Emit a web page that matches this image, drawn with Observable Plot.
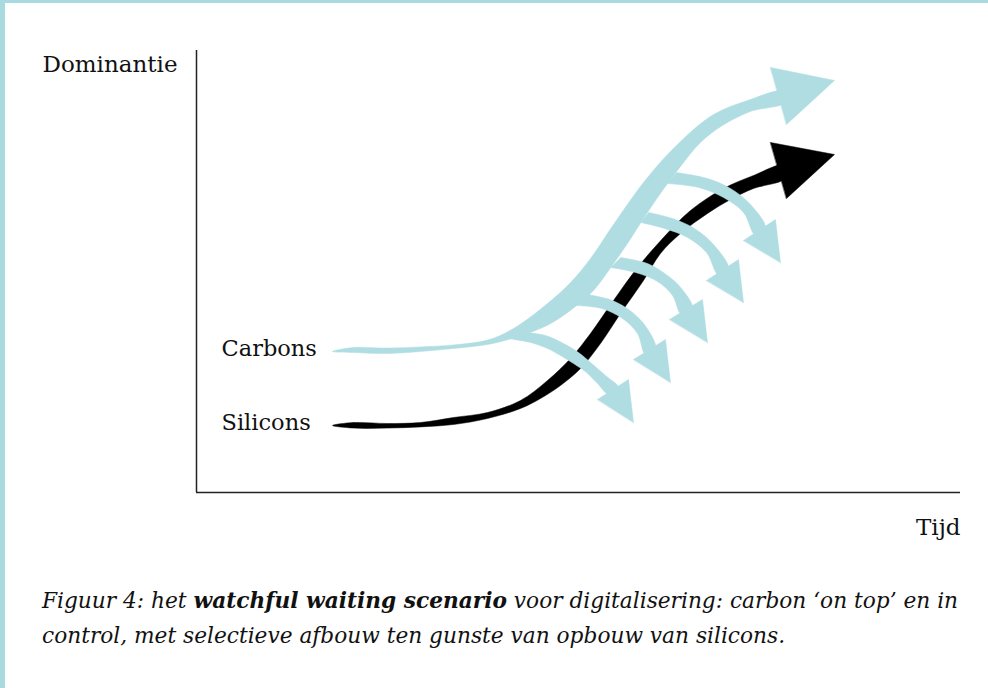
<!DOCTYPE html>
<html>
<head>
<meta charset="utf-8">
<script src="https://cdn.jsdelivr.net/npm/d3@7"></script>
<script src="https://cdn.jsdelivr.net/npm/@observablehq/plot@0.6"></script>
<style>
  html, body { margin: 0; padding: 0; background: #fff; }
  #page { position: relative; width: 988px; height: 688px; overflow: hidden; background: #fff; }
  #chart { position: absolute; left: 0; top: 0; }
  .band-left { position: absolute; left: 0; top: 0; width: 5px; height: 688px; background: #a9dadf; }
  .band-top { position: absolute; left: 0; top: 0; width: 988px; height: 3px; background: #a9dadf; }
  #caption { position: absolute; left: 42px; top: 583px; font-family: "DejaVu Serif", serif; font-style: italic;
             font-size: 21.7px; line-height: 35px; color: #111; white-space: nowrap; }
</style>
</head>
<body>
<div id="page">
  <div id="chart"></div>
  <div class="band-left"></div>
  <div class="band-top"></div>
  <div id="caption"></div>
</div>
<script>
// ---- Text ----
const yLabel = "Dominantie";
const xLabel = "Tijd";
const seriesNames = ["Carbons", "Silicons"];
const captionParts = ["Figuur 4: het ", "watchful waiting scenario", " voor digitalisering: carbon ‘on top’ en in", "control, met selectieve afbouw ten gunste van opbouw van silicons."];

// ---- Domains (arbitrary units: Tijd, Dominantie) ----
const tijdDomain = [0, 191];
const dominantieDomain = [0, 110.5];

// ---- Carbons: main ribbon outline [tijd, dominantie] ----
const carbonsUpper = [[34,35.25],[39.25,36.25],[47.75,36.1],[56,36.4],[64.25,36.9],[72.75,38.1],[79.25,41],[87.75,47.25],[93.75,52.75],[98.5,58.5],[104.25,67],[112.75,78.75],[121,87.75],[129.25,94.5],[137.75,98],[146.5,100.25]];
const carbonsLower = [[147,97.5],[138.5,95.25],[131.5,91.75],[126,87.5],[121,81.5],[116.5,75.5],[112.25,69.25],[107.75,62.25],[103.75,56.5],[99.25,50.5],[94.75,46.5],[89,42.5],[83.5,40],[78,38.25],[72.75,37],[64.25,36],[56,35.25],[47.75,34.75],[39.25,35]];
const carbonsHead = [[143.5,106.25],[159.5,103],[147.5,92]];

// ---- Silicons: main ribbon outline ----
const siliconsUpper = [[34,16.75],[39.25,17.5],[47.75,17.25],[56,17.5],[64.25,18.75],[72.75,20],[81,23],[87.75,28],[93.5,33.5],[98.5,39.75],[104.25,48],[110.25,56.25],[116.75,63.75],[123.5,70.5],[131.75,76],[139.25,79.25],[146.5,81.75]];
const siliconsLower = [[147,78.5],[139.25,76],[133.5,73.25],[127.75,69.75],[121,64.75],[116,59.75],[111.75,53],[106,44.75],[101,37.25],[96,31],[91,26.75],[86,23.5],[81,21],[72.75,18.5],[64.25,17],[56,16.4],[47.75,16.1],[39.25,16.1]];
const siliconsHead = [[143.5,87.5],[159.5,84.5],[147.5,73.5]];

// ---- Carbon branches (selective afbouw) ----
const branchUpper = [
  [[82.5,40],[87.25,39.25],[91.75,37.25],[95.5,35],[98.5,32.5],[102.25,29.25],[105.6,26.1]],
  [[97.75,49.5],[104,48],[109,45],[112.5,41.25],[114.75,36.1]],
  [[106,58.75],[112.75,57.25],[117.75,54.25],[121.25,51],[124,46.1]],
  [[113,70],[119,68.5],[124.5,66],[129.25,62],[133,56]],
  [[120,80],[127.75,78.5],[133.5,76],[138.5,72],[142.25,66.1]]
];
const branchLower = [
  [[103.1,24.5],[100.25,27.25],[97.5,30],[94.25,32.25],[91,34.25],[87.75,36],[83.5,37.5],[78.5,38.4]],
  [[112.25,34.5],[110.25,39.75],[106.5,43.5],[101.25,46],[94.75,46.75]],
  [[121.25,44.5],[119,49.25],[115.25,52.75],[109.75,55],[103.5,56.25]],
  [[130.5,54.4],[127.5,60],[122.75,63.75],[117,66],[111,67.5]],
  [[139.75,64.3],[136.75,70],[131.75,73.75],[125.5,76.25],[117.5,77.25]]
];
const branchHeads = [
  [[100.25,23.25],[108,28.25],[109.25,17.5]],
  [[109.25,33.25],[117.25,38.25],[118.5,27.5]],
  [[118.25,43.25],[126.5,48.25],[127.75,37.5]],
  [[127.5,53],[135.5,58.25],[136.75,47.5]],
  [[136.75,63],[144.75,68.25],[146,57.5]]
];

// ---- Build tables ----
const rows = (name, ...parts) => parts.flat().map(([t, d]) => ({name, t, d}));
const blue = "#b0dde2";
const black = "#000";

const siliconsBody = rows("Silicons", siliconsUpper, siliconsLower);
const siliconsTip = rows("Silicons", siliconsHead);
const carbonsBody = rows("Carbons", carbonsUpper, carbonsLower);
const carbonsTip = rows("Carbons", carbonsHead);
const branches = branchUpper.flatMap((u, i) => rows("b" + i, u, branchLower[i]));
const branchTips = branchHeads.flatMap((h, i) => rows("b" + i, h));
const seriesStarts = [
  {name: seriesNames[0], t: carbonsUpper[0][0], d: carbonsUpper[0][1]},
  {name: seriesNames[1], t: siliconsUpper[0][0], d: siliconsUpper[0][1]}
];

const chart = Plot.plot({
  width: 988,
  height: 560,
  marginLeft: 196,
  marginRight: 28,
  marginTop: 50,
  marginBottom: 68,
  x: {domain: tijdDomain, axis: null},
  y: {domain: dominantieDomain, axis: null},
  style: {fontFamily: "'DejaVu Serif', serif", background: "transparent", overflow: "visible", color: "#111"},
  marks: [
    Plot.ruleX([tijdDomain[0]], {y1: dominantieDomain[0], y2: dominantieDomain[1], stroke: "#222", strokeWidth: 1.5}),
    Plot.ruleY([dominantieDomain[0]], {x1: tijdDomain[0], x2: tijdDomain[1], stroke: "#222", strokeWidth: 1.5}),
    // Silicons (black)
    Plot.line(siliconsBody, {x: "t", y: "d", z: "name", fill: black, stroke: black, strokeWidth: 0.5, curve: "catmull-rom-closed"}),
    Plot.line(siliconsTip, {x: "t", y: "d", z: "name", fill: black, stroke: black, strokeWidth: 0.5, curve: "linear-closed"}),
    // Carbons (light blue)
    Plot.line(carbonsBody, {x: "t", y: "d", z: "name", fill: blue, stroke: blue, strokeWidth: 0.5, curve: "catmull-rom-closed"}),
    Plot.line(carbonsTip, {x: "t", y: "d", z: "name", fill: blue, stroke: blue, strokeWidth: 0.5, curve: "linear-closed"}),
    Plot.line(branches, {x: "t", y: "d", z: "name", fill: blue, stroke: blue, strokeWidth: 0.5, curve: "catmull-rom"}),
    Plot.line(branchTips, {x: "t", y: "d", z: "name", fill: blue, stroke: blue, strokeWidth: 0.5, curve: "linear-closed"}),
    // Labels
    Plot.text(seriesStarts, {x: "t", y: "d", text: "name", textAnchor: "start", dx: -111, dy: -3, fontSize: 22.5, fill: "#111"}),
    Plot.text([yLabel], {frameAnchor: "top-left", textAnchor: "start", dx: -154, dy: 5, fontSize: 23, fill: "#111"}),
    Plot.text([xLabel], {frameAnchor: "bottom-right", textAnchor: "end", dy: 42, fontSize: 23, fill: "#111"})
  ]
});
document.getElementById("chart").appendChild(chart);

const cap = document.getElementById("caption");
cap.append(captionParts[0]);
const b = document.createElement("b"); b.textContent = captionParts[1]; cap.append(b);
cap.append(captionParts[2]);
cap.append(document.createElement("br"));
cap.append(captionParts[3]);
</script>
</body>
</html>
